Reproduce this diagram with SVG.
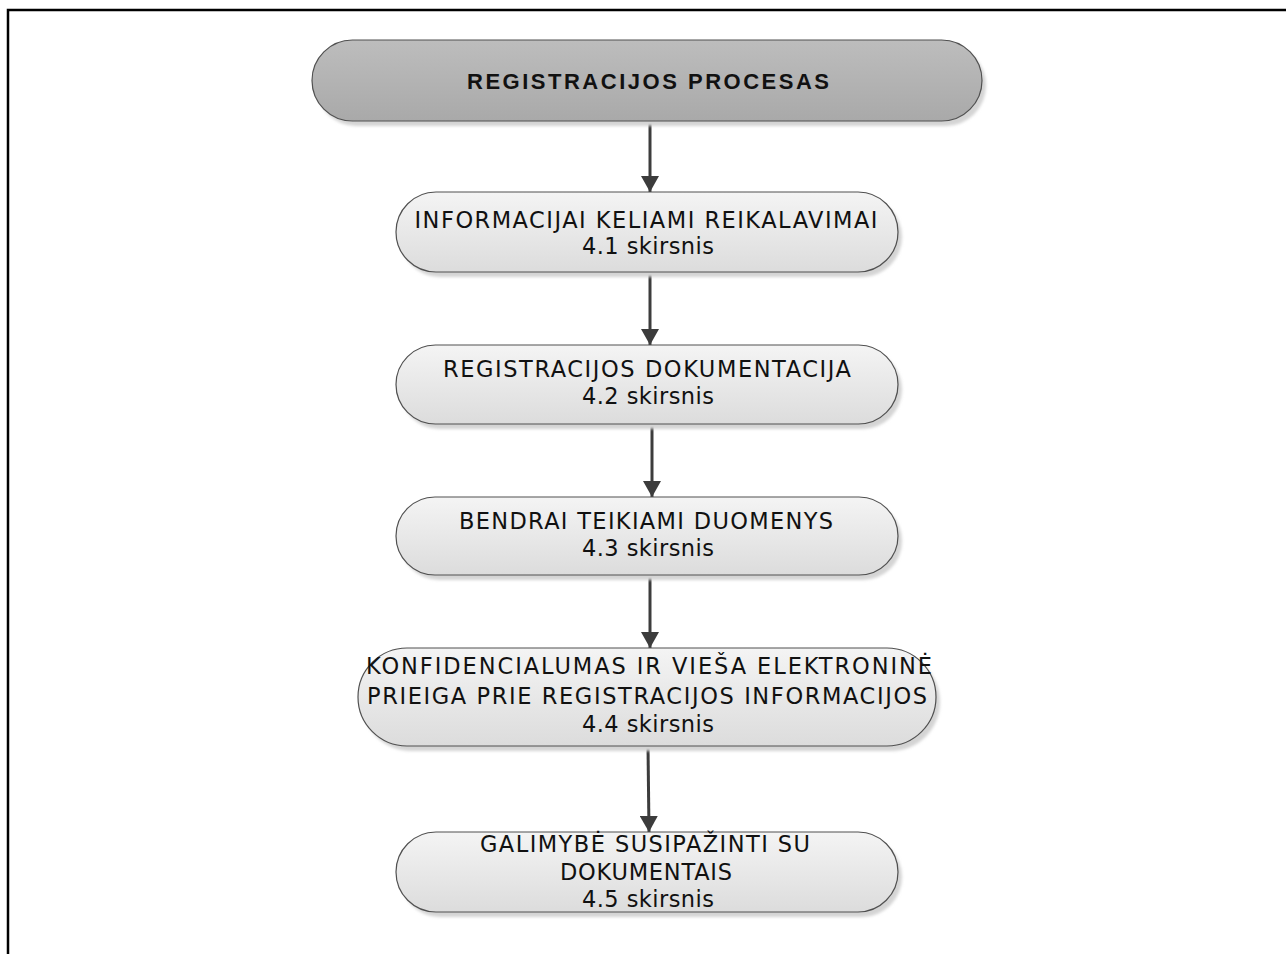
<svg xmlns="http://www.w3.org/2000/svg" width="1286" height="954" viewBox="0 0 1286 954">
  <defs>
    <linearGradient id="gDark" x1="0" y1="0" x2="0" y2="1">
      <stop offset="0" stop-color="#bdbdbd"/>
      <stop offset="1" stop-color="#a9a9a9"/>
    </linearGradient>
    <linearGradient id="gLight" x1="0" y1="0" x2="0" y2="1">
      <stop offset="0" stop-color="#f4f4f4"/>
      <stop offset="1" stop-color="#dcdcdc"/>
    </linearGradient>
    <filter id="soft" x="-5%" y="-20%" width="110%" height="140%">
      <feGaussianBlur stdDeviation="1.5"/>
    </filter>
    <marker id="arrow" markerUnits="userSpaceOnUse" markerWidth="18" markerHeight="18" refX="16" refY="9" orient="auto">
      <path d="M0,0 L16,9 L0,18 Z" fill="#3c3c3c"/>
    </marker>
  </defs>
  <style>
    .shadow { fill: #d4d4d4; filter: url(#soft); }
    .box { stroke: #505050; stroke-width: 1.2; }
    .dark { fill: url(#gDark); }
    .light { fill: url(#gLight); }
    .title { font-family: "Liberation Sans", Arial, sans-serif; font-weight: bold; font-size: 22px; fill: #111; }
    .lbl { font-family: "DejaVu Sans", Verdana, sans-serif; font-size: 22.5px; fill: #111; }
    .conn { stroke: #3c3c3c; stroke-width: 3; fill: none; marker-end: url(#arrow); }
    .frame { stroke: #000; stroke-width: 2.5; fill: none; }
  </style>

  <rect width="1286" height="954" fill="#ffffff"/>
  <path class="frame" d="M8,954 V10 H1286"/>

  <g id="connectors">
    <line class="conn" x1="650" y1="121" x2="650" y2="192"/>
    <line class="conn" x1="650" y1="272" x2="650" y2="345"/>
    <line class="conn" x1="652" y1="424" x2="652" y2="497"/>
    <line class="conn" x1="650" y1="576" x2="650" y2="648"/>
    <line class="conn" x1="648" y1="746" x2="649" y2="832"/>
  </g>

  <g id="n1">
    <rect class="shadow" x="316" y="45" width="670" height="81" rx="40.5"/>
    <rect class="box dark" x="312" y="40" width="670" height="81" rx="40.5"/>
    <text class="title" x="648" y="89" text-anchor="middle" textLength="362" lengthAdjust="spacing">REGISTRACIJOS PROCESAS</text>
  </g>

  <g id="n2">
    <rect class="shadow" x="400" y="197" width="502" height="80" rx="40"/>
    <rect class="box light" x="396" y="192" width="502" height="80" rx="40"/>
    <text class="lbl" x="646" y="228" text-anchor="middle" textLength="463" lengthAdjust="spacing">INFORMACIJAI KELIAMI REIKALAVIMAI</text>
    <text class="lbl" x="648" y="254" text-anchor="middle" textLength="132" lengthAdjust="spacing">4.1 skirsnis</text>
  </g>

  <g id="n3">
    <rect class="shadow" x="400" y="350" width="502" height="79" rx="39.5"/>
    <rect class="box light" x="396" y="345" width="502" height="79" rx="39.5"/>
    <text class="lbl" x="647" y="377" text-anchor="middle" textLength="408" lengthAdjust="spacing">REGISTRACIJOS DOKUMENTACIJA</text>
    <text class="lbl" x="648" y="404" text-anchor="middle" textLength="132" lengthAdjust="spacing">4.2 skirsnis</text>
  </g>

  <g id="n4">
    <rect class="shadow" x="400" y="502" width="502" height="78" rx="39"/>
    <rect class="box light" x="396" y="497" width="502" height="78" rx="39"/>
    <text class="lbl" x="646" y="529" text-anchor="middle" textLength="374" lengthAdjust="spacing">BENDRAI TEIKIAMI DUOMENYS</text>
    <text class="lbl" x="648" y="556" text-anchor="middle" textLength="132" lengthAdjust="spacing">4.3 skirsnis</text>
  </g>

  <g id="n5">
    <rect class="shadow" x="362" y="653" width="578" height="98" rx="49"/>
    <rect class="box light" x="358" y="648" width="578" height="98" rx="49"/>
    <text class="lbl" x="649" y="674" text-anchor="middle" textLength="566" lengthAdjust="spacing">KONFIDENCIALUMAS IR VIEŠA ELEKTRONINĖ</text>
    <text class="lbl" x="647" y="704" text-anchor="middle" textLength="560" lengthAdjust="spacing">PRIEIGA PRIE REGISTRACIJOS INFORMACIJOS</text>
    <text class="lbl" x="648" y="732" text-anchor="middle" textLength="132" lengthAdjust="spacing">4.4 skirsnis</text>
  </g>

  <g id="n6">
    <rect class="shadow" x="400" y="837" width="502" height="80" rx="40"/>
    <rect class="box light" x="396" y="832" width="502" height="80" rx="40"/>
    <text class="lbl" x="645" y="852" text-anchor="middle" textLength="330" lengthAdjust="spacing">GALIMYBĖ SUSIPAŽINTI SU</text>
    <text class="lbl" x="646" y="880" text-anchor="middle" textLength="172" lengthAdjust="spacing">DOKUMENTAIS</text>
    <text class="lbl" x="648" y="907" text-anchor="middle" textLength="132" lengthAdjust="spacing">4.5 skirsnis</text>
  </g>
</svg>
